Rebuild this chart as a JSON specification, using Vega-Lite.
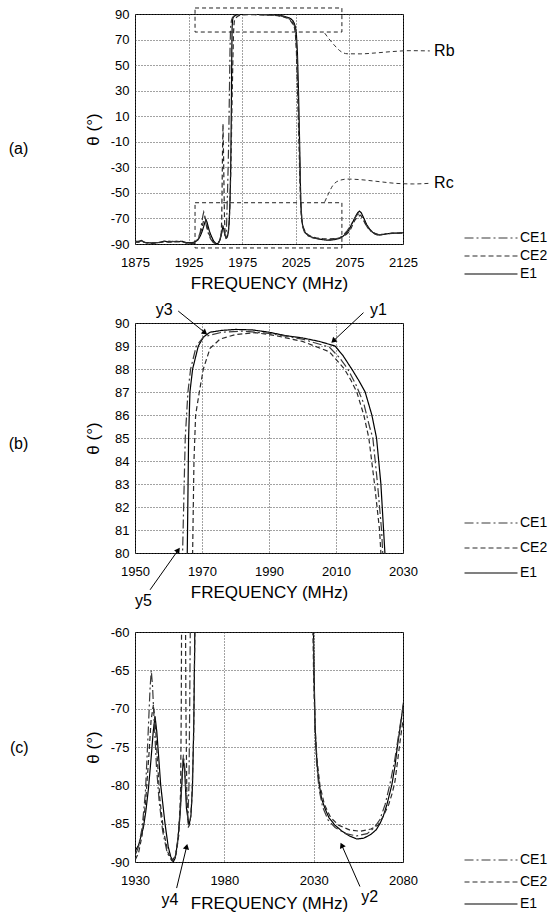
{
  "$schema": "https://vega.github.io/schema/vega-lite/v6.json",
  "padding": {"left": 8, "top": 6, "right": 2, "bottom": 2},
  "autosize": {"type": "pad"},
  "background": "white",
  "config": {
    "font": "Liberation Sans",
    "view": {"stroke": "#000", "strokeWidth": 1},
    "axis": {"labelFont": "Liberation Sans", "titleFont": "Liberation Sans", "labelColor": "#000", "titleColor": "#000", "labelFontSize": 13, "titleFontSize": 17, "titleFontWeight": "normal", "grid": true, "gridColor": "#444", "gridDash": [1, 2], "gridOpacity": 1, "ticks": false, "domain": false, "labelOverlap": false, "labelFlush": false, "labelBound": false, "tickCount": 30},
    "legend": {"title": null, "orient": "none", "symbolType": "M-6,0H6", "symbolSize": 78, "labelOffset": 22, "labelFont": "Liberation Sans", "labelFontSize": 14, "labelColor": "#000", "padding": 0},
    "title": {"font": "Liberation Sans", "fontSize": 16, "fontWeight": "normal", "color": "#000", "orient": "left", "angle": 0, "anchor": "middle", "align": "right", "baseline": "middle", "offset": 46}
  },
  "datasets": {
    "curves": [
      {"s":"E1","f":1875,"t":-87.7},{"s":"E1","f":1878,"t":-88.5},{"s":"E1","f":1881,"t":-87.2},{"s":"E1","f":1884,"t":-88.8},{"s":"E1","f":1890,"t":-89.2},{"s":"E1","f":1898,"t":-88.8},{"s":"E1","f":1902,"t":-87.8},{"s":"E1","f":1906,"t":-88.3},{"s":"E1","f":1910,"t":-88.0},{"s":"E1","f":1915,"t":-88.2},{"s":"E1","f":1919,"t":-87.9},{"s":"E1","f":1923,"t":-89.0},{"s":"E1","f":1928,"t":-89.0},{"s":"E1","f":1930,"t":-88.6},{"s":"E1","f":1932,"t":-87.8},{"s":"E1","f":1934.7,"t":-85.5},{"s":"E1","f":1936,"t":-83.5},{"s":"E1","f":1937.5,"t":-80.5},{"s":"E1","f":1939,"t":-76.5},{"s":"E1","f":1940.2,"t":-73.0},{"s":"E1","f":1941.2,"t":-71.0},{"s":"E1","f":1942.2,"t":-73.0},{"s":"E1","f":1943,"t":-75.5},{"s":"E1","f":1944.4,"t":-80},{"s":"E1","f":1946.8,"t":-85},{"s":"E1","f":1948.6,"t":-88},{"s":"E1","f":1950,"t":-89.3},{"s":"E1","f":1951.4,"t":-90},{"s":"E1","f":1952.5,"t":-89.5},{"s":"E1","f":1953.8,"t":-87.5},{"s":"E1","f":1955.2,"t":-84},{"s":"E1","f":1956.3,"t":-79.5},{"s":"E1","f":1957.0,"t":-76.5},{"s":"E1","f":1957.8,"t":-78},{"s":"E1","f":1958.8,"t":-83},{"s":"E1","f":1960.2,"t":-85.2},{"s":"E1","f":1961.3,"t":-84},{"s":"E1","f":1962.2,"t":-80},{"s":"E1","f":1962.9,"t":-72},{"s":"E1","f":1963.4,"t":-62},{"s":"E1","f":1963.8,"t":-50},{"s":"E1","f":1964.3,"t":-30},{"s":"E1","f":1964.7,"t":0},{"s":"E1","f":1965.0,"t":30},{"s":"E1","f":1965.3,"t":60},{"s":"E1","f":1965.6,"t":80},{"s":"E1","f":1966.0,"t":85},{"s":"E1","f":1966.4,"t":87},{"s":"E1","f":1967.2,"t":88},{"s":"E1","f":1968.9,"t":89},{"s":"E1","f":1970.5,"t":89.4},{"s":"E1","f":1972.4,"t":89.6},{"s":"E1","f":1976,"t":89.68},{"s":"E1","f":1980,"t":89.72},{"s":"E1","f":1985,"t":89.7},{"s":"E1","f":1990,"t":89.6},{"s":"E1","f":1995,"t":89.45},{"s":"E1","f":2000,"t":89.35},{"s":"E1","f":2005,"t":89.2},{"s":"E1","f":2009.7,"t":89.0},{"s":"E1","f":2012,"t":88.6},{"s":"E1","f":2014.7,"t":88},{"s":"E1","f":2016.8,"t":87.5},{"s":"E1","f":2018.7,"t":87},{"s":"E1","f":2020.7,"t":86},{"s":"E1","f":2022.1,"t":85},{"s":"E1","f":2023.4,"t":83},{"s":"E1","f":2024.6,"t":80},{"s":"E1","f":2025.5,"t":75},{"s":"E1","f":2026.5,"t":60},{"s":"E1","f":2027.5,"t":30},{"s":"E1","f":2028.3,"t":0},{"s":"E1","f":2029,"t":-30},{"s":"E1","f":2029.6,"t":-55},{"s":"E1","f":2030.2,"t":-65},{"s":"E1","f":2030.8,"t":-72},{"s":"E1","f":2031.3,"t":-75},{"s":"E1","f":2032.2,"t":-78},{"s":"E1","f":2033.2,"t":-80},{"s":"E1","f":2034.5,"t":-81.8},{"s":"E1","f":2036.3,"t":-83},{"s":"E1","f":2038.5,"t":-84.2},{"s":"E1","f":2041.9,"t":-85.2},{"s":"E1","f":2046,"t":-86},{"s":"E1","f":2050,"t":-86.6},{"s":"E1","f":2054.1,"t":-87},{"s":"E1","f":2058,"t":-86.9},{"s":"E1","f":2062,"t":-86.4},{"s":"E1","f":2065,"t":-85.8},{"s":"E1","f":2067.1,"t":-85},{"s":"E1","f":2069,"t":-84},{"s":"E1","f":2071,"t":-82.5},{"s":"E1","f":2073.7,"t":-80},{"s":"E1","f":2075.5,"t":-77.5},{"s":"E1","f":2076.8,"t":-75},{"s":"E1","f":2078.5,"t":-72.3},{"s":"E1","f":2079.8,"t":-70},{"s":"E1","f":2081,"t":-68},{"s":"E1","f":2082.5,"t":-65.8},{"s":"E1","f":2084.3,"t":-64.3},{"s":"E1","f":2086,"t":-65.5},{"s":"E1","f":2088,"t":-69},{"s":"E1","f":2091.2,"t":-75},{"s":"E1","f":2094,"t":-78.5},{"s":"E1","f":2097,"t":-81},{"s":"E1","f":2100,"t":-82.5},{"s":"E1","f":2103.5,"t":-83},{"s":"E1","f":2107,"t":-82.5},{"s":"E1","f":2110,"t":-82},{"s":"E1","f":2115,"t":-81.5},{"s":"E1","f":2120,"t":-81.5},{"s":"E1","f":2125,"t":-81.2},
      {"s":"CE1","f":1875,"t":-88.2},{"s":"CE1","f":1881,"t":-87.5},{"s":"CE1","f":1885,"t":-89},{"s":"CE1","f":1890,"t":-89.4},{"s":"CE1","f":1900,"t":-88.5},{"s":"CE1","f":1904,"t":-87.6},{"s":"CE1","f":1910,"t":-88.2},{"s":"CE1","f":1917,"t":-87.8},{"s":"CE1","f":1923,"t":-89.2},{"s":"CE1","f":1928,"t":-89.3},{"s":"CE1","f":1930,"t":-89.2},{"s":"CE1","f":1932,"t":-88},{"s":"CE1","f":1934,"t":-85.5},{"s":"CE1","f":1935.8,"t":-81},{"s":"CE1","f":1937.2,"t":-74},{"s":"CE1","f":1938.4,"t":-67.5},{"s":"CE1","f":1939.1,"t":-65},{"s":"CE1","f":1939.8,"t":-67},{"s":"CE1","f":1940.8,"t":-72},{"s":"CE1","f":1942,"t":-77.5},{"s":"CE1","f":1943.5,"t":-82},{"s":"CE1","f":1945.5,"t":-86},{"s":"CE1","f":1948,"t":-88.8},{"s":"CE1","f":1950.5,"t":-89.8},{"s":"CE1","f":1952.5,"t":-89.3},{"s":"CE1","f":1954,"t":-87},{"s":"CE1","f":1955.5,"t":-82.5},{"s":"CE1","f":1956.5,"t":-78},{"s":"CE1","f":1957.1,"t":-76},{"s":"CE1","f":1957.8,"t":-77.5},{"s":"CE1","f":1958.8,"t":-82},{"s":"CE1","f":1959.6,"t":-84.5},{"s":"CE1","f":1960.2,"t":-80},{"s":"CE1","f":1960.6,"t":-70},{"s":"CE1","f":1961,"t":-58},{"s":"CE1","f":1961.6,"t":-40},{"s":"CE1","f":1962.4,"t":-10},{"s":"CE1","f":1963.1,"t":30},{"s":"CE1","f":1963.7,"t":65},{"s":"CE1","f":1964.2,"t":80},{"s":"CE1","f":1965,"t":85},{"s":"CE1","f":1965.8,"t":87},{"s":"CE1","f":1966.6,"t":88},{"s":"CE1","f":1968.3,"t":89},{"s":"CE1","f":1970.5,"t":89.4},{"s":"CE1","f":1976,"t":89.6},{"s":"CE1","f":1982,"t":89.65},{"s":"CE1","f":1990,"t":89.55},{"s":"CE1","f":2000,"t":89.3},{"s":"CE1","f":2008,"t":88.95},{"s":"CE1","f":2011,"t":88.5},{"s":"CE1","f":2013.5,"t":88},{"s":"CE1","f":2016,"t":87.3},{"s":"CE1","f":2018.3,"t":86.5},{"s":"CE1","f":2020,"t":85.5},{"s":"CE1","f":2021,"t":85},{"s":"CE1","f":2022.4,"t":83},{"s":"CE1","f":2023.6,"t":81},{"s":"CE1","f":2024.3,"t":79},{"s":"CE1","f":2025,"t":75},{"s":"CE1","f":2026,"t":60},{"s":"CE1","f":2027,"t":30},{"s":"CE1","f":2028,"t":0},{"s":"CE1","f":2028.8,"t":-30},{"s":"CE1","f":2029.5,"t":-55},{"s":"CE1","f":2030.1,"t":-65},{"s":"CE1","f":2030.8,"t":-73},{"s":"CE1","f":2031.6,"t":-77},{"s":"CE1","f":2033,"t":-80.5},{"s":"CE1","f":2035,"t":-82.8},{"s":"CE1","f":2038,"t":-84.5},{"s":"CE1","f":2042,"t":-85.5},{"s":"CE1","f":2048,"t":-86.3},{"s":"CE1","f":2054,"t":-86.6},{"s":"CE1","f":2060,"t":-86.3},{"s":"CE1","f":2064,"t":-85.5},{"s":"CE1","f":2067,"t":-84.5},{"s":"CE1","f":2070,"t":-82.5},{"s":"CE1","f":2073,"t":-79.5},{"s":"CE1","f":2075.5,"t":-76.5},{"s":"CE1","f":2077.5,"t":-73.5},{"s":"CE1","f":2079.5,"t":-70.5},{"s":"CE1","f":2081,"t":-68.5},{"s":"CE1","f":2083,"t":-66.5},{"s":"CE1","f":2085,"t":-66.8},{"s":"CE1","f":2087,"t":-69.5},{"s":"CE1","f":2090,"t":-74.5},{"s":"CE1","f":2093,"t":-78.5},{"s":"CE1","f":2097,"t":-81.5},{"s":"CE1","f":2101,"t":-82.8},{"s":"CE1","f":2106,"t":-82.5},{"s":"CE1","f":2112,"t":-81.8},{"s":"CE1","f":2118,"t":-81.6},{"s":"CE1","f":2125,"t":-81.5},
      {"s":"CE2","f":1875,"t":-88.8},{"s":"CE2","f":1882,"t":-88.2},{"s":"CE2","f":1888,"t":-89.5},{"s":"CE2","f":1896,"t":-89.2},{"s":"CE2","f":1903,"t":-88.2},{"s":"CE2","f":1908,"t":-88.6},{"s":"CE2","f":1914,"t":-87.9},{"s":"CE2","f":1920,"t":-88.6},{"s":"CE2","f":1925,"t":-89.5},{"s":"CE2","f":1930,"t":-89.8},{"s":"CE2","f":1932,"t":-88.8},{"s":"CE2","f":1934,"t":-86.5},{"s":"CE2","f":1936,"t":-82},{"s":"CE2","f":1937.8,"t":-76},{"s":"CE2","f":1939,"t":-71.5},{"s":"CE2","f":1940.3,"t":-69.5},{"s":"CE2","f":1941.4,"t":-72},{"s":"CE2","f":1942.6,"t":-77},{"s":"CE2","f":1944,"t":-82},{"s":"CE2","f":1946,"t":-86},{"s":"CE2","f":1948.5,"t":-88.8},{"s":"CE2","f":1951,"t":-89.8},{"s":"CE2","f":1953,"t":-89},{"s":"CE2","f":1954.5,"t":-86.5},{"s":"CE2","f":1955.5,"t":-81},{"s":"CE2","f":1955.9,"t":-70},{"s":"CE2","f":1956.2,"t":-50},{"s":"CE2","f":1956.6,"t":-20},{"s":"CE2","f":1957.1,"t":4},{"s":"CE2","f":1957.6,"t":-20},{"s":"CE2","f":1958.1,"t":-50},{"s":"CE2","f":1958.5,"t":-70},{"s":"CE2","f":1959,"t":-81},{"s":"CE2","f":1959.8,"t":-85.5},{"s":"CE2","f":1960.8,"t":-85},{"s":"CE2","f":1961.8,"t":-82},{"s":"CE2","f":1962.8,"t":-74},{"s":"CE2","f":1963.5,"t":-60},{"s":"CE2","f":1964.3,"t":-35},{"s":"CE2","f":1965,"t":-5},{"s":"CE2","f":1965.6,"t":25},{"s":"CE2","f":1966.2,"t":50},{"s":"CE2","f":1966.8,"t":72},{"s":"CE2","f":1967.2,"t":80},{"s":"CE2","f":1967.6,"t":84},{"s":"CE2","f":1968.1,"t":86},{"s":"CE2","f":1969.2,"t":87},{"s":"CE2","f":1970.4,"t":88},{"s":"CE2","f":1972.4,"t":88.9},{"s":"CE2","f":1975.4,"t":89.3},{"s":"CE2","f":1980,"t":89.5},{"s":"CE2","f":1986,"t":89.58},{"s":"CE2","f":1992,"t":89.45},{"s":"CE2","f":2000,"t":89.2},{"s":"CE2","f":2008,"t":88.75},{"s":"CE2","f":2012.5,"t":88},{"s":"CE2","f":2014.5,"t":87.5},{"s":"CE2","f":2016.2,"t":87},{"s":"CE2","f":2018.3,"t":86},{"s":"CE2","f":2019.8,"t":85},{"s":"CE2","f":2021.5,"t":83},{"s":"CE2","f":2023,"t":81},{"s":"CE2","f":2023.8,"t":79},{"s":"CE2","f":2024.6,"t":75},{"s":"CE2","f":2025.6,"t":60},{"s":"CE2","f":2026.6,"t":30},{"s":"CE2","f":2027.6,"t":0},{"s":"CE2","f":2028.5,"t":-30},{"s":"CE2","f":2029.3,"t":-55},{"s":"CE2","f":2030,"t":-66},{"s":"CE2","f":2030.8,"t":-72.5},{"s":"CE2","f":2031.8,"t":-76.5},{"s":"CE2","f":2033.5,"t":-80},{"s":"CE2","f":2036,"t":-82.5},{"s":"CE2","f":2039.5,"t":-84.2},{"s":"CE2","f":2044,"t":-85.2},{"s":"CE2","f":2050,"t":-85.8},{"s":"CE2","f":2056,"t":-86},{"s":"CE2","f":2062,"t":-85.7},{"s":"CE2","f":2066,"t":-85.2},{"s":"CE2","f":2069,"t":-84},{"s":"CE2","f":2072,"t":-82.5},{"s":"CE2","f":2074,"t":-81},{"s":"CE2","f":2075.5,"t":-79.5},{"s":"CE2","f":2077,"t":-76.8},{"s":"CE2","f":2078.5,"t":-74},{"s":"CE2","f":2080,"t":-71.5},{"s":"CE2","f":2081.5,"t":-70},{"s":"CE2","f":2083,"t":-68.5},{"s":"CE2","f":2085.5,"t":-67.5},{"s":"CE2","f":2088,"t":-70.5},{"s":"CE2","f":2091,"t":-75.5},{"s":"CE2","f":2094,"t":-79},{"s":"CE2","f":2098,"t":-81.5},{"s":"CE2","f":2102,"t":-82.5},{"s":"CE2","f":2108,"t":-82.2},{"s":"CE2","f":2115,"t":-81.7},{"s":"CE2","f":2125,"t":-81.4}
    ],
    "rectA": [
      {"f1": 1931, "f2": 2068, "t1": 94.7, "t2": 75.9},
      {"f1": 1931, "f2": 2068, "t1": -57.7, "t2": -93.1}
    ],
    "leaderA": [
      {"g":"Rb","f":2052,"t":75},{"g":"Rb","f":2056,"t":70.5},{"g":"Rb","f":2061.6,"t":65},{"g":"Rb","f":2066,"t":61.3},{"g":"Rb","f":2072.8,"t":58.9},{"g":"Rb","f":2085,"t":58.8},{"g":"Rb","f":2099,"t":59.5},{"g":"Rb","f":2115,"t":60.6},{"g":"Rb","f":2131.5,"t":61.3},{"g":"Rb","f":2150,"t":61.1},
      {"g":"Rc","f":2052,"t":-57},{"g":"Rc","f":2055,"t":-51.5},{"g":"Rc","f":2059.7,"t":-44},{"g":"Rc","f":2065,"t":-40.5},{"g":"Rc","f":2072.8,"t":-39.2},{"g":"Rc","f":2086,"t":-39.7},{"g":"Rc","f":2100.7,"t":-41},{"g":"Rc","f":2119.4,"t":-42.6},{"g":"Rc","f":2135,"t":-43},{"g":"Rc","f":2150,"t":-42.5}
    ],
    "labelsA": [
      {"txt": "Rb", "f": 2154, "t": 61},
      {"txt": "Rc", "f": 2154, "t": -42.3}
    ],
    "arrowsB": [
      {"id": "y3", "f1": 1962.9, "t1": 90.52, "f2": 1970.9, "t2": 89.58},
      {"id": "y1", "f1": 2018.2, "t1": 90.45, "f2": 2009.2, "t2": 89.22},
      {"id": "y5", "f1": 1954.5, "t1": 78.4, "f2": 1962.9, "t2": 80.13}
    ],
    "labelsB": [
      {"txt": "y3", "f": 1958.7, "t": 90.56},
      {"txt": "y1", "f": 2022.7, "t": 90.56},
      {"txt": "y5", "f": 1952.5, "t": 77.92}
    ],
    "arrowsC": [
      {"id": "y4", "f1": 1953.3, "t1": -93.4, "f2": 1958.9, "t2": -88.0},
      {"id": "y2", "f1": 2055.9, "t1": -93.2, "f2": 2045.7, "t2": -87.8}
    ],
    "labelsC": [
      {"txt": "y4", "f": 1949.6, "t": -94.96},
      {"txt": "y2", "f": 2061.3, "t": -94.63}
    ]
  },
  "spacing": 79,
  "bounds": "flush",
  "resolve": {
    "scale": {"color": "independent", "strokeDash": "independent", "strokeWidth": "independent"},
    "legend": {"color": "independent", "strokeDash": "independent", "strokeWidth": "independent"}
  },
  "vconcat": [
    {
      "width": 268, "height": 230,
      "title": {"text": "(a)", "dy": 12},
      "layer": [
        {
          "data": {"name": "curves"},
          "mark": {"type": "line", "clip": true},
          "encoding": {
            "x": {"field": "f", "type": "quantitative", "scale": {"domain": [1875, 2125], "nice": false, "zero": false},
                  "axis": {"values": [1875, 1925, 1975, 2025, 2075, 2125], "labelExpr": "toString(datum.value)", "title": "FREQUENCY (MHz)", "labelPadding": 12, "titleY": 31, "titleBaseline": "top"}},
            "y": {"field": "t", "type": "quantitative", "scale": {"domain": [-90, 90], "nice": false, "zero": false},
                  "axis": {"values": [-90, -70, -50, -30, -10, 10, 30, 50, 70, 90], "labelExpr": "toString(datum.value)", "title": "θ (°)", "labelPadding": 6, "titleX": -42, "titleY": 115, "titleAngle": 270, "titleAlign": "center", "titleBaseline": "middle"}},
            "color": {"field": "s", "type": "nominal", "scale": {"domain": ["CE1", "CE2", "E1"], "range": ["#3a3a3a", "#2a2a2a", "#000000"]},
                      "legend": {"legendX": 349, "legendY": 217, "rowPadding": 4}},
            "strokeDash": {"field": "s", "type": "nominal", "scale": {"domain": ["CE1", "CE2", "E1"], "range": [[9, 3, 2, 3], [5, 3], [1, 0]]},
                      "legend": {"legendX": 349, "legendY": 217, "rowPadding": 4}},
            "strokeWidth": {"field": "s", "type": "nominal", "scale": {"domain": ["CE1", "CE2", "E1"], "range": [1.2, 1.2, 2]},
                      "legend": {"legendX": 349, "legendY": 217, "rowPadding": 4}}
          }
        },
        {
          "data": {"name": "rectA"},
          "mark": {"type": "rect", "filled": false, "color": "#222", "strokeDash": [4, 3], "strokeWidth": 1, "clip": false},
          "encoding": {
            "x": {"field": "f1", "type": "quantitative", "scale": {"domain": [1875, 2125], "nice": false, "zero": false}},
            "x2": {"field": "f2"},
            "y": {"field": "t1", "type": "quantitative", "scale": {"domain": [-90, 90], "nice": false, "zero": false}},
            "y2": {"field": "t2"}
          }
        },
        {
          "data": {"name": "leaderA"},
          "mark": {"type": "line", "color": "#333", "strokeDash": [4, 3], "strokeWidth": 1, "clip": false, "interpolate": "monotone"},
          "encoding": {
            "x": {"field": "f", "type": "quantitative", "scale": {"domain": [1875, 2125], "nice": false, "zero": false}},
            "y": {"field": "t", "type": "quantitative", "scale": {"domain": [-90, 90], "nice": false, "zero": false}},
            "detail": {"field": "g"}
          }
        },
        {
          "data": {"name": "labelsA"},
          "mark": {"type": "text", "align": "left", "baseline": "middle", "fontSize": 16, "font": "Liberation Sans", "color": "#000", "clip": false},
          "encoding": {
            "x": {"field": "f", "type": "quantitative", "scale": {"domain": [1875, 2125], "nice": false, "zero": false}},
            "y": {"field": "t", "type": "quantitative", "scale": {"domain": [-90, 90], "nice": false, "zero": false}},
            "text": {"field": "txt"}
          }
        }
      ]
    },
    {
      "width": 268, "height": 230,
      "title": {"text": "(b)", "dy": -2},
      "layer": [
        {
          "data": {"name": "curves"},
          "mark": {"type": "line", "clip": true},
          "encoding": {
            "x": {"field": "f", "type": "quantitative", "scale": {"domain": [1950, 2030], "nice": false, "zero": false},
                  "axis": {"values": [1950, 1970, 1990, 2010, 2030], "labelExpr": "toString(datum.value)", "title": "FREQUENCY (MHz)", "labelPadding": 12, "titleY": 31, "titleBaseline": "top"}},
            "y": {"field": "t", "type": "quantitative", "scale": {"domain": [80, 90], "nice": false, "zero": false},
                  "axis": {"values": [80, 81, 82, 83, 84, 85, 86, 87, 88, 89, 90], "labelExpr": "toString(datum.value)", "title": "θ (°)", "labelPadding": 6, "titleX": -42, "titleY": 115, "titleAngle": 270, "titleAlign": "center", "titleBaseline": "middle"}},
            "color": {"field": "s", "type": "nominal", "scale": {"domain": ["CE1", "CE2", "E1"], "range": ["#3a3a3a", "#2a2a2a", "#000000"]},
                      "legend": {"legendX": 349, "legendY": 193, "rowPadding": 11}},
            "strokeDash": {"field": "s", "type": "nominal", "scale": {"domain": ["CE1", "CE2", "E1"], "range": [[9, 3, 2, 3], [5, 3], [1, 0]]},
                      "legend": {"legendX": 349, "legendY": 193, "rowPadding": 11}},
            "strokeWidth": {"field": "s", "type": "nominal", "scale": {"domain": ["CE1", "CE2", "E1"], "range": [1.2, 1.2, 2]},
                      "legend": {"legendX": 349, "legendY": 193, "rowPadding": 11}}
          }
        },
        {
          "data": {"name": "arrowsB"},
          "mark": {"type": "rule", "color": "#000", "strokeWidth": 1, "clip": false},
          "encoding": {
            "x": {"field": "f1", "type": "quantitative", "scale": {"domain": [1950, 2030], "nice": false, "zero": false}},
            "x2": {"field": "f2"},
            "y": {"field": "t1", "type": "quantitative", "scale": {"domain": [80, 90], "nice": false, "zero": false}},
            "y2": {"field": "t2"}
          }
        },
        {
          "data": {"name": "arrowsB"},
          "transform": [{"filter": "datum.id === 'y3'"}],
          "mark": {"type": "point", "shape": "triangle-up", "filled": true, "size": 40, "angle": 129, "color": "#000", "opacity": 1, "clip": false},
          "encoding": {
            "x": {"field": "f2", "type": "quantitative", "scale": {"domain": [1950, 2030], "nice": false, "zero": false}},
            "y": {"field": "t2", "type": "quantitative", "scale": {"domain": [80, 90], "nice": false, "zero": false}}
          }
        },
        {
          "data": {"name": "arrowsB"},
          "transform": [{"filter": "datum.id === 'y1'"}],
          "mark": {"type": "point", "shape": "triangle-up", "filled": true, "size": 40, "angle": 227, "color": "#000", "opacity": 1, "clip": false},
          "encoding": {
            "x": {"field": "f2", "type": "quantitative", "scale": {"domain": [1950, 2030], "nice": false, "zero": false}},
            "y": {"field": "t2", "type": "quantitative", "scale": {"domain": [80, 90], "nice": false, "zero": false}}
          }
        },
        {
          "data": {"name": "arrowsB"},
          "transform": [{"filter": "datum.id === 'y5'"}],
          "mark": {"type": "point", "shape": "triangle-up", "filled": true, "size": 40, "angle": 35, "color": "#000", "opacity": 1, "clip": false},
          "encoding": {
            "x": {"field": "f2", "type": "quantitative", "scale": {"domain": [1950, 2030], "nice": false, "zero": false}},
            "y": {"field": "t2", "type": "quantitative", "scale": {"domain": [80, 90], "nice": false, "zero": false}}
          }
        },
        {
          "data": {"name": "labelsB"},
          "mark": {"type": "text", "align": "center", "baseline": "middle", "fontSize": 16, "font": "Liberation Sans", "color": "#000", "clip": false},
          "encoding": {
            "x": {"field": "f", "type": "quantitative", "scale": {"domain": [1950, 2030], "nice": false, "zero": false}},
            "y": {"field": "t", "type": "quantitative", "scale": {"domain": [80, 90], "nice": false, "zero": false}},
            "text": {"field": "txt"}
          }
        }
      ]
    },
    {
      "width": 268, "height": 230,
      "title": {"text": "(c)", "dy": -7},
      "layer": [
        {
          "data": {"name": "curves"},
          "mark": {"type": "line", "clip": true},
          "encoding": {
            "x": {"field": "f", "type": "quantitative", "scale": {"domain": [1930, 2080], "nice": false, "zero": false},
                  "axis": {"values": [1930, 1980, 2030, 2080], "labelExpr": "toString(datum.value)", "title": "FREQUENCY (MHz)", "labelPadding": 12, "titleY": 33, "titleBaseline": "top"}},
            "y": {"field": "t", "type": "quantitative", "scale": {"domain": [-90, -60], "nice": false, "zero": false},
                  "axis": {"values": [-90, -85, -80, -75, -70, -65, -60], "labelExpr": "toString(datum.value)", "title": "θ (°)", "labelPadding": 6, "titleX": -42, "titleY": 115, "titleAngle": 270, "titleAlign": "center", "titleBaseline": "middle"}},
            "color": {"field": "s", "type": "nominal", "scale": {"domain": ["CE1", "CE2", "E1"], "range": ["#3a3a3a", "#2a2a2a", "#000000"]},
                      "legend": {"legendX": 349, "legendY": 221, "rowPadding": 8}},
            "strokeDash": {"field": "s", "type": "nominal", "scale": {"domain": ["CE1", "CE2", "E1"], "range": [[9, 3, 2, 3], [5, 3], [1, 0]]},
                      "legend": {"legendX": 349, "legendY": 221, "rowPadding": 8}},
            "strokeWidth": {"field": "s", "type": "nominal", "scale": {"domain": ["CE1", "CE2", "E1"], "range": [1.2, 1.2, 2]},
                      "legend": {"legendX": 349, "legendY": 221, "rowPadding": 8}}
          }
        },
        {
          "data": {"name": "arrowsC"},
          "mark": {"type": "rule", "color": "#000", "strokeWidth": 1, "clip": false},
          "encoding": {
            "x": {"field": "f1", "type": "quantitative", "scale": {"domain": [1930, 2080], "nice": false, "zero": false}},
            "x2": {"field": "f2"},
            "y": {"field": "t1", "type": "quantitative", "scale": {"domain": [-90, -60], "nice": false, "zero": false}},
            "y2": {"field": "t2"}
          }
        },
        {
          "data": {"name": "arrowsC"},
          "transform": [{"filter": "datum.id === 'y4'"}],
          "mark": {"type": "point", "shape": "triangle-up", "filled": true, "size": 40, "angle": 14, "color": "#000", "opacity": 1, "clip": false},
          "encoding": {
            "x": {"field": "f2", "type": "quantitative", "scale": {"domain": [1930, 2080], "nice": false, "zero": false}},
            "y": {"field": "t2", "type": "quantitative", "scale": {"domain": [-90, -60], "nice": false, "zero": false}}
          }
        },
        {
          "data": {"name": "arrowsC"},
          "transform": [{"filter": "datum.id === 'y2'"}],
          "mark": {"type": "point", "shape": "triangle-up", "filled": true, "size": 40, "angle": 336, "color": "#000", "opacity": 1, "clip": false},
          "encoding": {
            "x": {"field": "f2", "type": "quantitative", "scale": {"domain": [1930, 2080], "nice": false, "zero": false}},
            "y": {"field": "t2", "type": "quantitative", "scale": {"domain": [-90, -60], "nice": false, "zero": false}}
          }
        },
        {
          "data": {"name": "labelsC"},
          "mark": {"type": "text", "align": "center", "baseline": "middle", "fontSize": 16, "font": "Liberation Sans", "color": "#000", "clip": false},
          "encoding": {
            "x": {"field": "f", "type": "quantitative", "scale": {"domain": [1930, 2080], "nice": false, "zero": false}},
            "y": {"field": "t", "type": "quantitative", "scale": {"domain": [-90, -60], "nice": false, "zero": false}},
            "text": {"field": "txt"}
          }
        }
      ]
    }
  ]
}
